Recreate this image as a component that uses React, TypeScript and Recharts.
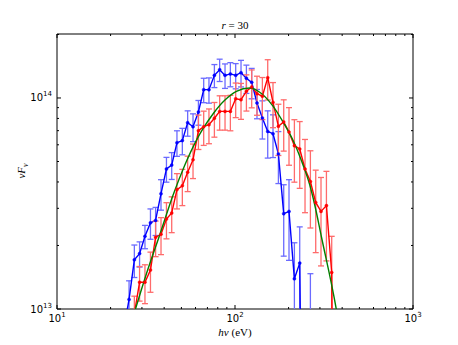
import React from 'react';
import { ComposedChart, Line, XAxis, YAxis, ErrorBar } from 'recharts';

// photon energies (eV) of the binned points, shared by both measured series
const energies = [
  23.7, 25.4, 27.2, 29.1, 31.2, 33.5, 35.8, 38.4, 41.2, 44.1, 47.2, 50.6, 54.2, 58.1,
  62.3, 66.7, 71.4, 76.6, 82.0, 87.9, 94.2, 100.9, 108.1, 115.9, 124.1, 132.9, 142.5,
  152.7, 163.5, 175.3, 187.8, 201.1, 215.6, 231.0, 247.4, 265.2, 284.1, 304.2, 326.3,
  349.4, 374.2,
];

const blueFlux = [
  0.8e13, 1.11e13, 1.71e13, 1.83e13, 2.21e13, 2.56e13, 2.63e13, 3.52e13, 4.61e13, 4.81e13,
  6.14e13, 6.28e13, 7.64e13, 7.31e13, 8.58e13, 1.095e14, 1.095e14, 1.28e14, 1.362e14, 1.28e14,
  1.3e14, 1.28e14, 1.318e14, 1.241e14, 1.186e14, 9.47e13, 8.04e13, 6.94e13, 6.77e13, 5.43e13,
  2.83e13, 2.9e13, 1.39e13, 1.65e13, 1e11, 1e11, null, null, null, null, null,
];
const blueErr: (number | number[] | null)[] = [
  0.18e13, 0.25e13, 0.3e13, 0.25e13, 0.28e13, 0.42e13, 0.4e13, 0.58e13, 0.62e13, 0.7e13,
  0.85e13, 0.9e13, 1.05e13, 1.1e13, 1.15e13, 1.45e13, 1.5e13, 1.6e13, 1.65e13, 1.7e13,
  1.7e13, 1.75e13, 1.9e13, 1.9e13, 1.95e13, 1.5e13, 1.65e13, 1.75e13, 1.55e13, 1.5e13,
  1.05e13, 1.2e13, 0.67e13, 0.8e13, 0, [0.5e11, 1.46e13], null, null, null, null, null,
];

const redFlux = [
  null, null, 0.95e13, 1.34e13, 1.34e13, 1.53e13, 2.19e13, 2.26e13, 2.67e13, 2.85e13,
  3.68e13, 3.84e13, 4.45e13, 5.1e13, 7.0e13, 7.31e13, 7.47e13, 8.02e13, 8.64e13, 8.64e13,
  8.64e13, 9.92e13, 9.82e13, 1.077e14, 1.128e14, 1.048e14, 1.02e14, 1.248e14, 9.53e13, 7.34e13,
  7.7e13, 6.9e13, 5.94e13, 5.73e13, 4.61e13, 4.02e13, 3.2e13, 2.9e13, 3.09e13, 1.49e13, 1e10,
];
const redErr = [
  null, null, 0.2e13, 0.25e13, 0.28e13, 0.33e13, 0.42e13, 0.45e13, 0.52e13, 0.55e13,
  0.7e13, 0.75e13, 0.85e13, 0.95e13, 1.3e13, 1.35e13, 1.4e13, 1.5e13, 1.6e13, 1.6e13,
  1.65e13, 1.85e13, 1.9e13, 2.1e13, 2.3e13, 2.2e13, 2.3e13, 2.7e13, 2.3e13, 2.0e13,
  2.1e13, 2.1e13, 1.95e13, 2.0e13, 1.75e13, 1.6e13, 1.35e13, 1.3e13, 1.4e13, 0.72e13, 0,
];

// smooth model curve (green)
const modelEnergies = [
  25.5, 31.8, 37.8, 44.8, 52.2, 60.7, 66.1, 75.2, 87.5, 101.8, 121, 137.7, 163.5, 186.1,
  211.8, 236.1, 262.9, 280.4, 305.8, 371.3, 395,
];
const modelFlux = [
  0.8e13, 1.47e13, 2.25e13, 3.45e13, 4.8e13, 6.3e13, 7.15e13, 8.4e13, 9.75e13, 1.075e14,
  1.115e14, 1.065e14, 9.15e13, 7.7e13, 6.3e13, 5.05e13, 3.88e13, 3.12e13, 2.2e13, 0.99e13,
  0.72e13,
];

const xTicks = [10, 20, 30, 40, 50, 60, 70, 80, 90, 100, 200, 300, 400, 500, 600, 700, 800, 900, 1000];
const xMajor = [10, 100, 1000];
const xMajorExp = ['1', '2', '3'];
const yTicks = [1e13, 2e13, 3e13, 4e13, 5e13, 6e13, 7e13, 8e13, 9e13, 1e14, 2e14];
const yMajor = [1e13, 1e14];
const yMajorExp = ['13', '14'];

const blueData = energies
  .map((e, i) => ({ e, flux: blueFlux[i], err: blueErr[i] }))
  .filter((d) => d.flux != null);
const redData = energies
  .map((e, i) => ({ e, flux: redFlux[i], err: redErr[i] }))
  .filter((d) => d.flux != null);
const modelData = modelEnergies.map((e, i) => ({ e, flux: modelFlux[i] }));

const W = 458;
const H = 345;
const plot = { top: 34, right: 45, bottom: 36, left: 57 };
const xDomain = [10, 1000];
const yDomain = [1e13, 2.01e14];

const tickFont = "'DejaVu Sans', sans-serif";
const mathFont = "'Liberation Serif', 'DejaVu Serif', serif";

const BottomTick = (props: any) => {
  const { x, y, payload } = props;
  const k = xMajor.indexOf(payload.value);
  const major = k >= 0;
  return (
    <g>
      <line x1={x} x2={x} y1={y} y2={y - (major ? 4 : 2)} stroke="#000" strokeWidth={1} />
      {major && (
        <text x={x} y={y + 13} textAnchor="middle" fontSize={10} fontFamily={tickFont} fill="#000">
          10
          <tspan dy={-5} fontSize={7}>{xMajorExp[k]}</tspan>
        </text>
      )}
    </g>
  );
};

const TopTick = (props: any) => {
  const { x, y, payload } = props;
  const major = xMajor.includes(payload.value);
  return <line x1={x} x2={x} y1={y} y2={y + (major ? 4 : 2)} stroke="#000" strokeWidth={1} />;
};

const LeftTick = (props: any) => {
  const { x, y, payload } = props;
  const k = yMajor.indexOf(payload.value);
  const major = k >= 0;
  return (
    <g>
      <line x1={x} x2={x + (major ? 4 : 2)} y1={y} y2={y} stroke="#000" strokeWidth={1} />
      {major && (
        <text x={x - 5} y={y + 3.5} textAnchor="end" fontSize={10} fontFamily={tickFont} fill="#000">
          10
          <tspan dy={-5} fontSize={7}>{yMajorExp[k]}</tspan>
        </text>
      )}
    </g>
  );
};

const RightTick = (props: any) => {
  const { x, y, payload } = props;
  const major = yMajor.includes(payload.value);
  return <line x1={x} x2={x - (major ? 4 : 2)} y1={y} y2={y} stroke="#000" strokeWidth={1} />;
};

// frame, ticks and tick labels
const Frame = () => (
  <ComposedChart
    width={W}
    height={H}
    data={modelData}
    margin={{ top: plot.top - 1, right: plot.right - 1, bottom: 0, left: 0 }}
  >
    <XAxis
      dataKey="e"
      type="number"
      scale="log"
      domain={xDomain}
      allowDataOverflow
      ticks={xTicks}
      interval={0}
      height={plot.bottom}
      tickSize={0}
      tickMargin={0}
      tick={<BottomTick />}
      axisLine={{ stroke: '#000' }}
    />
    <XAxis
      xAxisId="top"
      orientation="top"
      dataKey="e"
      type="number"
      scale="log"
      domain={xDomain}
      allowDataOverflow
      ticks={xTicks}
      interval={0}
      height={1}
      tickSize={0}
      tickMargin={0}
      tick={<TopTick />}
      axisLine={{ stroke: '#000' }}
    />
    <YAxis
      type="number"
      scale="log"
      domain={yDomain}
      allowDataOverflow
      ticks={yTicks}
      interval={0}
      width={plot.left}
      tickSize={0}
      tickMargin={0}
      tick={<LeftTick />}
      axisLine={{ stroke: '#000' }}
    />
    <YAxis
      yAxisId="right"
      orientation="right"
      type="number"
      scale="log"
      domain={yDomain}
      allowDataOverflow
      ticks={yTicks}
      interval={0}
      width={1}
      tickSize={0}
      tickMargin={0}
      tick={<RightTick />}
      axisLine={{ stroke: '#000' }}
    />
  </ComposedChart>
);

// data series, clipped to the plot area
const Series = () => (
  <ComposedChart width={W} height={H} margin={plot}>
    <XAxis dataKey="e" type="number" scale="log" domain={xDomain} allowDataOverflow hide />
    <YAxis type="number" scale="log" domain={yDomain} allowDataOverflow hide />
    <Line
      data={blueData}
      dataKey="flux"
      stroke="#0000ff"
      strokeWidth={1.4}
      dot={{ r: 1.5, fill: '#0000ff', stroke: '#0000ff', strokeWidth: 0.5 }}
      isAnimationActive={false}
    >
      <ErrorBar dataKey="err" direction="y" width={3} stroke="#6b6bff" strokeWidth={1.3} />
    </Line>
    <Line
      data={redData}
      dataKey="flux"
      stroke="#ff0000"
      strokeWidth={1.4}
      dot={{ r: 1.5, fill: '#ff0000', stroke: '#ff0000', strokeWidth: 0.5 }}
      isAnimationActive={false}
    >
      <ErrorBar dataKey="err" direction="y" width={3} stroke="#ff6b6b" strokeWidth={1.3} />
    </Line>
    <Line
      data={modelData}
      dataKey="flux"
      type="monotone"
      stroke="#008000"
      strokeWidth={1.4}
      dot={false}
      isAnimationActive={false}
    />
  </ComposedChart>
);

export default function App() {
  return (
    <div style={{ position: 'absolute', left: 0, top: 0, width: W, height: H, background: '#fff' }}>
      <div style={{ position: 'absolute', left: 0, top: 0 }}>
        <Frame />
      </div>
      <div
        style={{
          position: 'absolute',
          left: 0,
          top: 0,
          clipPath: `inset(${plot.top}px ${plot.right}px ${plot.bottom}px ${plot.left}px)`,
        }}
      >
        <Series />
      </div>
      <svg width={W} height={H} style={{ position: 'absolute', left: 0, top: 0, pointerEvents: 'none' }}>
        <text x={235} y={29} textAnchor="middle" fontSize={11} fontFamily={mathFont} fill="#000">
          <tspan fontStyle="italic">r</tspan> = 30
        </text>
        <text x={235} y={336} textAnchor="middle" fontSize={11} fontFamily={mathFont} fill="#000">
          <tspan fontStyle="italic">hν</tspan> (eV)
        </text>
        <text
          transform="translate(25,171) rotate(-90)"
          textAnchor="middle"
          fontSize={11}
          fontFamily={mathFont}
          fontStyle="italic"
          fill="#000"
        >
          νF
          <tspan dy={3} fontSize={8}>ν</tspan>
        </text>
      </svg>
    </div>
  );
}
